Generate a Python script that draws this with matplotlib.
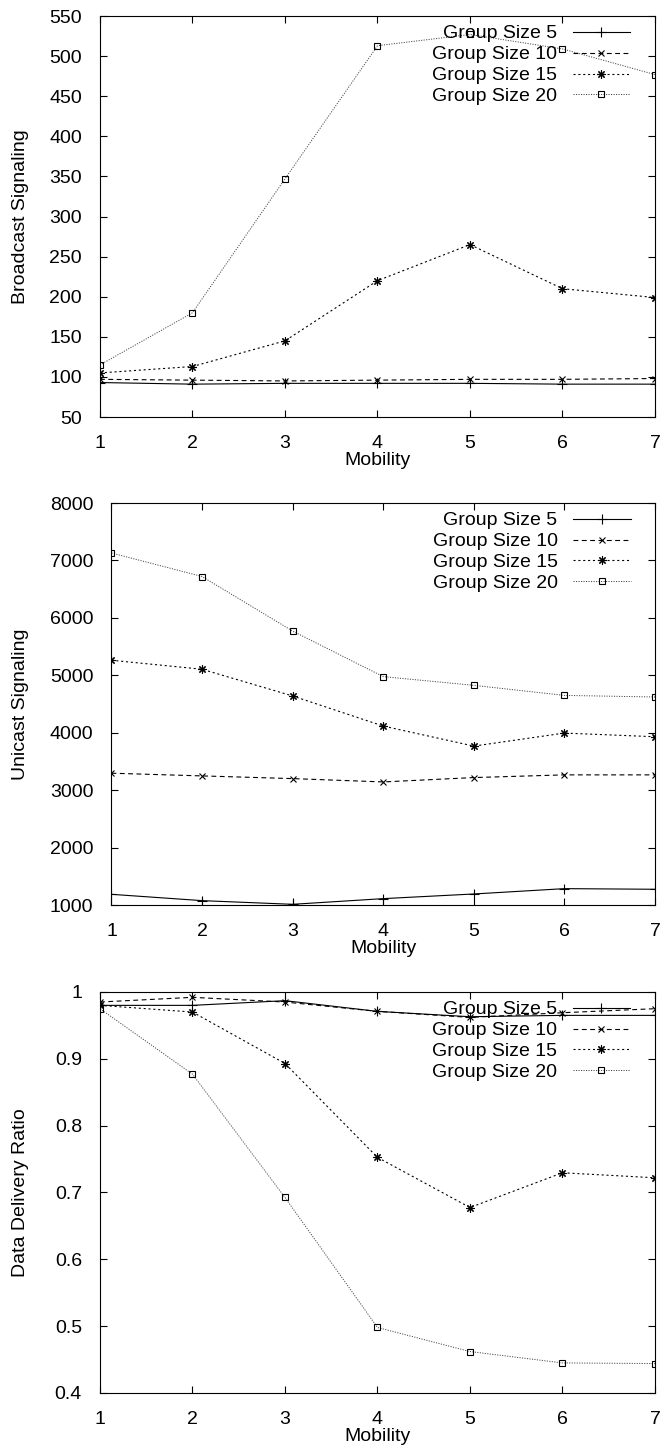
import matplotlib
matplotlib.use('Agg')
import matplotlib.pyplot as plt

# ---- data ----
mobility = [1, 2, 3, 4, 5, 6, 7]
labels = ['Group Size 5', 'Group Size 10', 'Group Size 15', 'Group Size 20']

bcast_g5 = [93, 91, 92, 92, 92, 91, 91]
bcast_g10 = [97, 96, 95, 96, 97, 97, 98]
bcast_g15 = [105, 113, 145, 220, 265, 210, 199]
bcast_g20 = [115, 180, 347, 513, 527, 509, 477]

ucast_g5 = [1186, 1076, 1012, 1111, 1192, 1285, 1274]
ucast_g10 = [3295, 3248, 3201, 3143, 3219, 3266, 3266]
ucast_g15 = [5262, 5105, 4640, 4116, 3767, 3994, 3930]
ucast_g20 = [7130, 6720, 5770, 4977, 4825, 4650, 4622]

ddr_g5 = [0.980, 0.980, 0.987, 0.971, 0.963, 0.965, 0.965]
ddr_g10 = [0.985, 0.992, 0.985, 0.971, 0.962, 0.969, 0.975]
ddr_g15 = [0.980, 0.970, 0.893, 0.7525, 0.6775, 0.7295, 0.722]
ddr_g20 = [0.975, 0.877, 0.6925, 0.498, 0.462, 0.445, 0.444]

plt.rcParams['font.family'] = ['Liberation Sans', 'DejaVu Sans']
plt.rcParams['lines.scale_dashes'] = False
FS = 14

# gnuplot-like line styles: solid/+, dashed/x, dotted/asterisk, fine dotted/square
styles = [
    dict(color='black', lw=0.8, ls='-', marker='+', ms=7, mew=0.8),
    dict(color='black', lw=0.8, dashes=(3.5, 2.5), marker='x', ms=5, mew=0.8),
    dict(color='black', lw=0.8, dashes=(1.5, 2.0), marker=(8, 2, 0), ms=6, mew=0.8),
    dict(color='#444444', lw=0.7, dashes=(0.8, 1.0), marker='s', ms=5, mew=0.8,
         mfc='none', mec='black'),
]

# (axes rect, series, y label, y limits, y ticks, y tick labels, y label x-coord)
panels = [
    ([0.1515, 0.7114, 0.8409, 0.2775], [bcast_g5, bcast_g10, bcast_g15, bcast_g20],
     'Broadcast Signaling', (50, 550), range(50, 551, 50), None, -0.128),
    ([0.1689, 0.3737, 0.8235, 0.2782], [ucast_g5, ucast_g10, ucast_g15, ucast_g20],
     'Unicast Signaling', (1000, 8000), range(1000, 8001, 1000), None, -0.152),
    ([0.1515, 0.0360, 0.8409, 0.2775], [ddr_g5, ddr_g10, ddr_g15, ddr_g20],
     'Data Delivery Ratio', (0.4, 1.0), [0.4, 0.5, 0.6, 0.7, 0.8, 0.9, 1.0],
     ['0.4', '0.5', '0.6', '0.7', '0.8', '0.9', '1'], -0.128),
]

fig = plt.figure(figsize=(6.6, 14.45), dpi=100)

for rect, series, ylab, ylim, yticks, yticklabels, ylab_x in panels:
    ax = fig.add_axes(rect)
    for vals, lab, st in zip(series, labels, styles):
        ax.plot(mobility, vals, label=lab, **st)
    ax.set_xlim(1, 7)
    ax.set_ylim(*ylim)
    ax.set_xticks(mobility)
    ax.set_yticks(list(yticks))
    if yticklabels:
        ax.set_yticklabels(yticklabels)
    ax.tick_params(direction='in', length=5, width=0.8, top=True, right=True,
                   labelsize=FS)
    ax.tick_params(axis='x', pad=13)
    ax.tick_params(axis='y', pad=13)
    for sp in ax.spines.values():
        sp.set_linewidth(0.8)
    ax.set_xlabel('Mobility', fontsize=FS)
    ax.xaxis.set_label_coords(0.5, -0.088)
    ax.set_ylabel(ylab, fontsize=FS)
    ax.yaxis.set_label_coords(ylab_x, 0.5)
    ax.legend(loc='upper right', bbox_to_anchor=(0.955, 0.978), frameon=False,
              markerfirst=False, fontsize=FS, handlelength=2.95,
              handletextpad=0.8, labelspacing=0.17, borderpad=0,
              borderaxespad=0, numpoints=1)

fig.savefig('out.png', dpi=100)
